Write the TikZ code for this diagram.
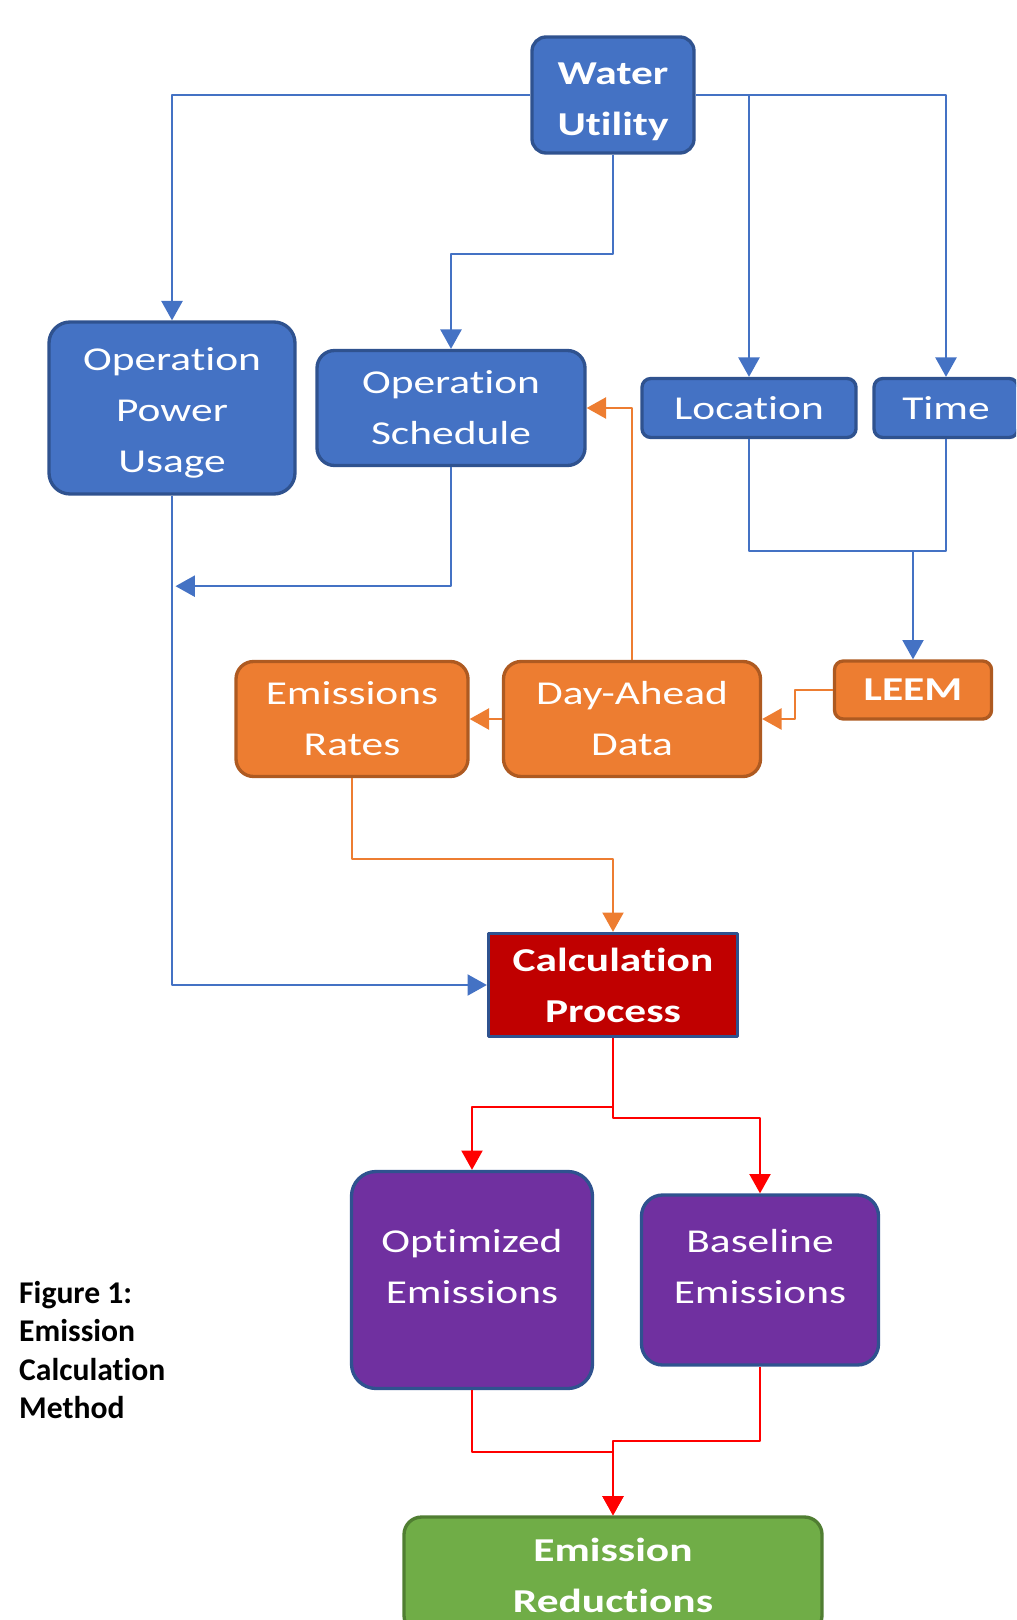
\documentclass[tikz,border=0pt]{standalone}
\usepackage{fontspec}
\setmainfont[Ligatures=NoCommon]{Carlito}
\newfontfamily\boxfont[FakeStretch=1.3, Ligatures=NoCommon]{Carlito}
\usetikzlibrary{positioning, arrows.meta}

\definecolor{bluefill}{HTML}{4472C4}
\definecolor{blueline}{HTML}{2F528F}
\definecolor{orangefill}{HTML}{ED7D31}
\definecolor{orangeline}{HTML}{AE5A21}
\definecolor{purplefill}{HTML}{7030A0}
\definecolor{greenfill}{HTML}{70AD47}
\definecolor{greenline}{HTML}{507E32}
\definecolor{redfill}{HTML}{C00000}

\begin{document}
\begin{tikzpicture}
	[on grid, line join=round, >={Triangle[width=12pt,length=11pt]},
	 box/.style={draw, rounded corners=10pt, line width=1.9pt, text=white, align=center,
	   inner sep=2pt, font={\boxfont\fontsize{19}{29}\selectfont}},
	 boldbox/.style={box, font={\boxfont\bfseries\fontsize{19}{29}\selectfont}},
	 blue/.style={fill=bluefill, draw=blueline},
	 orange/.style={fill=orangefill, draw=orangeline},
	 purple/.style={fill=purplefill, draw=blueline, text depth=15pt},
	 green/.style={fill=greenfill, draw=greenline},
	 bline/.style={draw=bluefill, line width=1.1pt},
	 oline/.style={draw=orangefill, line width=1.1pt},
	 rline/.style={draw=red, line width=1.1pt}]
   \path[use as bounding box, clip] (0,0) rectangle (20.32,-32.4);
   \node[boldbox, blue, minimum width=3.24cm, minimum height=2.32cm, rounded corners=8pt, text height=49pt] (wu) at (12.26,-1.9) {Water\\Utility};
   \node[box, blue, minimum width=5.36cm, minimum height=2.3cm] (ops) [below left=6.26cm and 3.24cm of wu] {Operation\\Schedule};
   \node[box, blue, minimum width=4.92cm, minimum height=3.44cm, rounded corners=12pt, text height=77pt] (opu) [left=5.58cm of ops] {Operation\\Power\\Usage};
   \node[box, blue, minimum width=4.28cm, minimum height=1.18cm, rounded corners=5pt] (loc) [right=5.96cm of ops] {Location};
   \node[box, blue, minimum width=2.88cm, minimum height=1.18cm, rounded corners=5pt] (time) [right=3.94cm of loc] {Time};
   \node[box, orange, minimum width=5.14cm, minimum height=2.3cm] (dad) [below right=6.22cm and 3.62cm of ops] {Day-Ahead\\Data};
   \node[box, orange, minimum width=4.64cm, minimum height=2.3cm] (er) [left=5.6cm of dad] {Emissions\\Rates};
   \node[boldbox, orange, minimum width=3.14cm, minimum height=1.16cm, rounded corners=5pt] (leem) [above right=0.58cm and 5.62cm of dad] {LEEM};
   \node[boldbox, fill=redfill, draw=blueline, rounded corners=0pt, minimum width=4.98cm, minimum height=2.06cm] (calc) [below=17.8cm of wu] {Calculation\\Process};
   \node[box, purple, minimum width=4.82cm, minimum height=4.34cm, rounded corners=14pt] (opt) [below left=5.9cm and 2.82cm of calc] {Optimized\\Emissions};
   \node[box, purple, minimum width=4.74cm, minimum height=3.4cm, rounded corners=12pt] (base) [right=5.76cm of opt] {Baseline\\Emissions};
   \node[boldbox, green, minimum width=8.36cm, minimum height=2.32cm] (red) [below=11.8cm of calc] {Emission\\Reductions};
   \node[align=left, anchor=west, font={\bfseries\fontsize{18}{21.7}\selectfont}] (cap) at (0.26,-27.0) {Figure 1:\\Emission\\Calculation\\Method};
   % blue connectors
   \draw[bline,->] (wu.west) -| (opu.north);
   \draw[bline,->] (wu.east) -| (time.north);
   \draw[bline,->] (wu.east -| loc.north) -- (loc.north);
   \draw[bline,->] (wu.south) -- ++(0,-1.98) -| (ops.north);
   \draw[bline,->] (ops.south) -- ++(0,-2.38) coordinate (k) -- ([xshift=2pt]k -| opu.south);
   \draw[bline,->] (opu.south) |- (calc.west);
   \draw[bline] (loc.south) -- ++(0,-2.24) coordinate (lt) -| (time.south);
   \draw[bline,->] (lt -| leem.north) -- (leem.north);
   % orange connectors
   \draw[oline,->] (leem.west) -- ++(-0.76,0) |- (dad.east);
   \draw[oline,->] (dad.west) -- (er.east);
   \draw[oline,->] (dad.north) |- (ops.east);
   \draw[oline,->] (er.south) -- ++(0,-1.62) -| (calc.north);
   % red connectors
   \draw[rline,->] (calc.south) -- ++(0,-1.38) -| (opt.north);
   \draw[rline,->] (calc.south) -- ++(0,-1.6) -| (base.north);
   \draw[rline,->] (opt.south) -- ++(0,-1.24) -| (red.north);
   \draw[rline,->] (base.south) -- ++(0,-1.48) -| (red.north);
\end{tikzpicture}
\end{document}
